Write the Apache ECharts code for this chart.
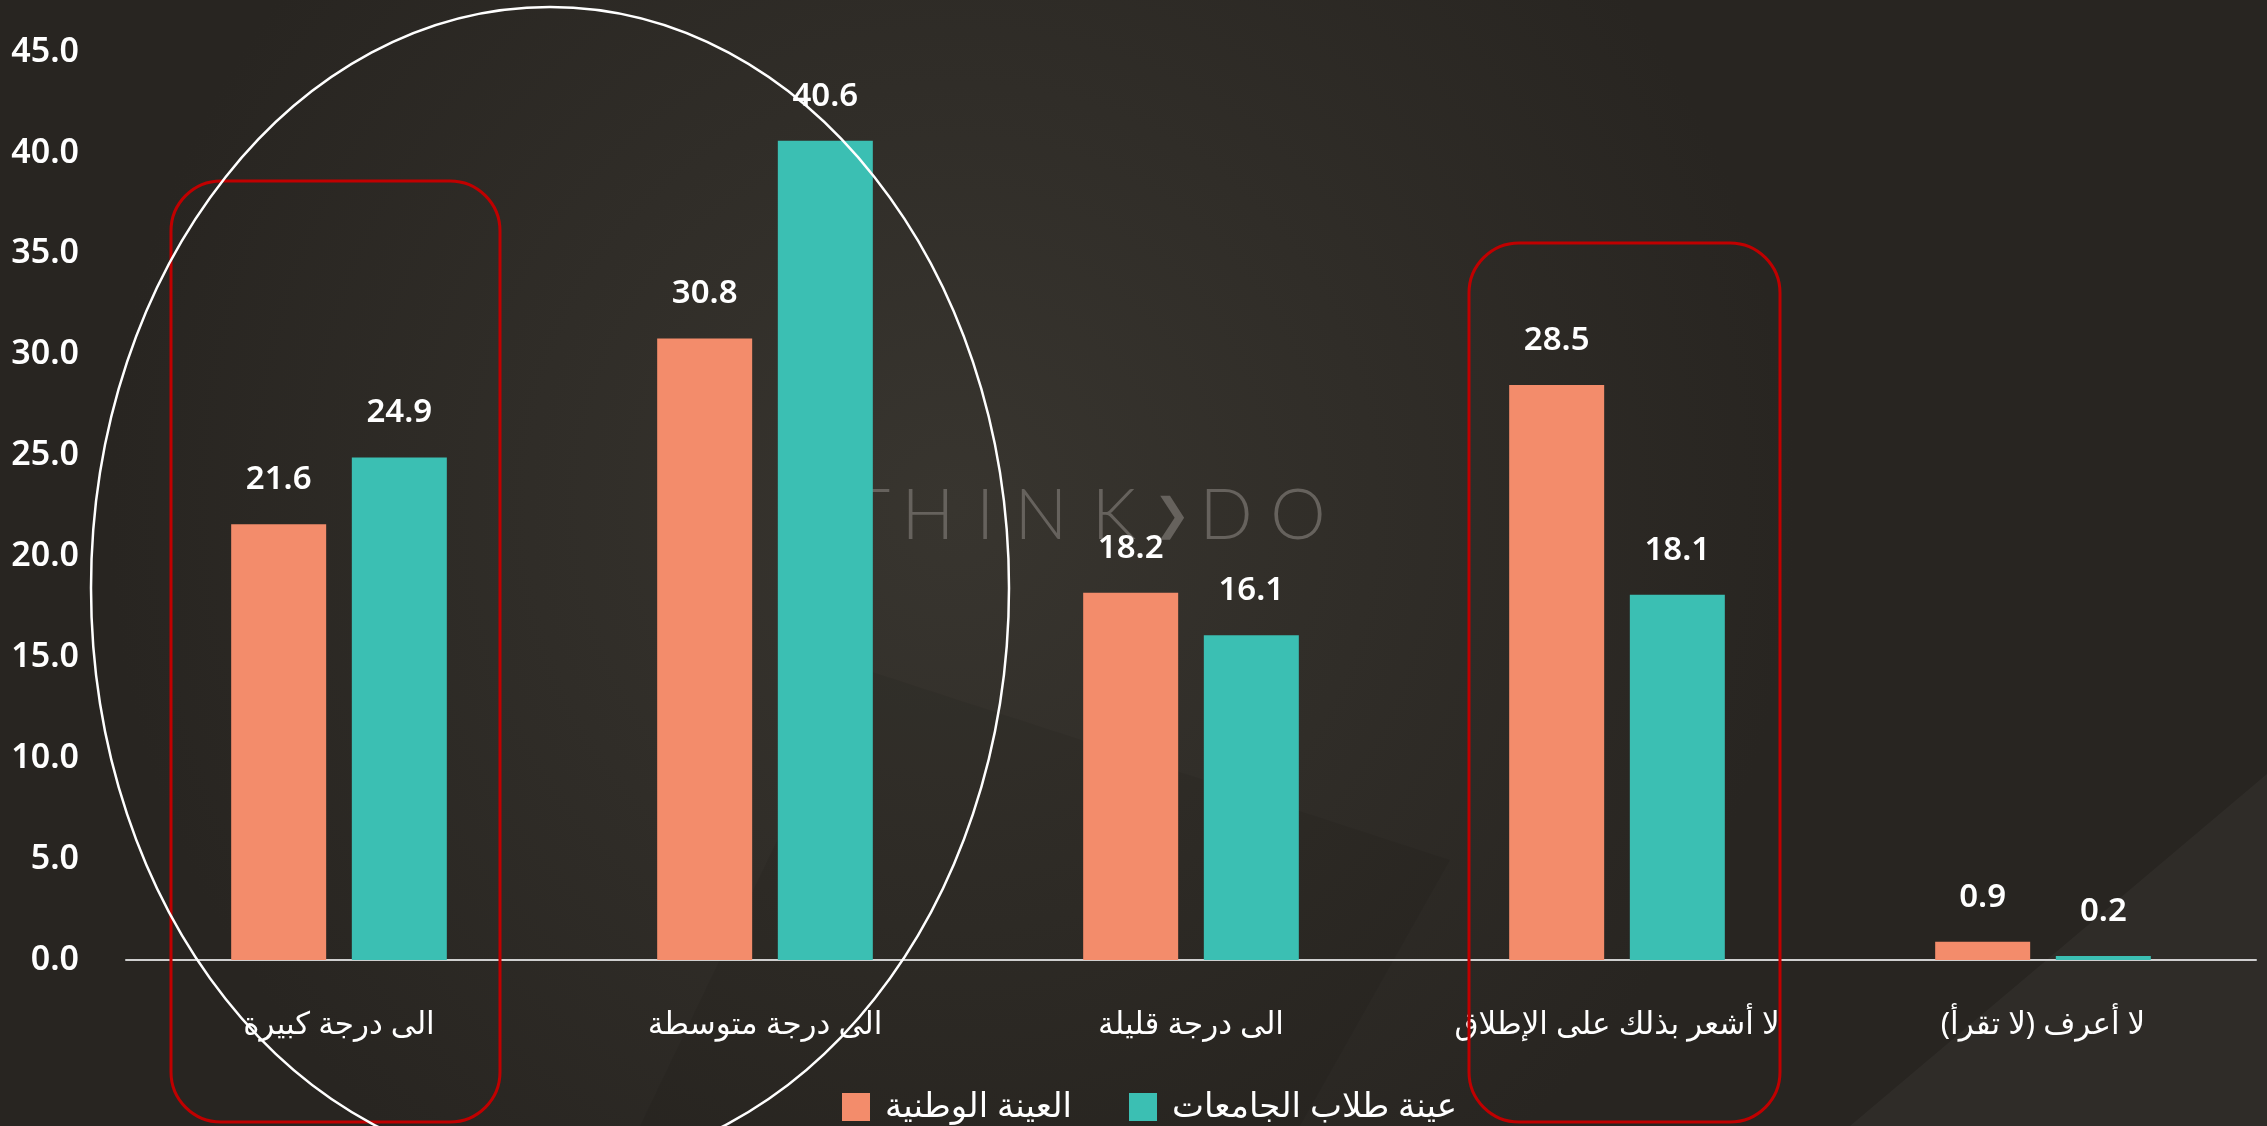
<!DOCTYPE html>
<html lang="ar">
<head>
    <meta charset="UTF-8">
    <title>chart</title>
    <script src="https://cdn.jsdelivr.net/npm/echarts@6/dist/echarts.min.js"></script>
    <style>
        html, body { margin: 0; padding: 0; background: #2c2925; }
        #container { width: 2267px; height: 1126px; }
    </style>
</head>
<body>
<div id="container"></div>
<script>
    // data
    var categories = ['الى درجة كبيرة', 'الى درجة متوسطة', 'الى درجة قليلة', 'لا أشعر بذلك على الإطلاق', 'لا أعرف (لا تقرأ)'];
    var seriesNames = ['العينة الوطنية', 'عينة طلاب الجامعات'];
    var nationalSample = [21.6, 30.8, 18.2, 28.5, 0.9];
    var studentSample = [24.9, 40.6, 16.1, 18.1, 0.2];
    var watermark = ['T', 'H', 'I', 'N', 'K', '❯', 'D', 'O'];

    var FONT = "'Noto Sans', 'DejaVu Sans', sans-serif";
    var myChart = echarts.init(document.getElementById('container'));

    // decorative watermark letters, spread out
    var wmX = [870, 928, 985, 1041, 1114, 1172, 1226, 1298];
    var wmGraphics = watermark.map(function (ch, i) {
        return {
            type: 'text', z: 0, silent: true,
            x: wmX[i], y: 516,
            style: {
                text: ch, fill: '#66625d',
                font: (ch === '❯' ? '400 44px ' : '300 70px Lato, ') + FONT,
                align: 'center', verticalAlign: 'middle'
            }
        };
    });

    function valueLabel(p) { return p.value.toFixed(1); }

    var option = {
        backgroundColor: {
            type: 'radial', x: 0.42, y: 0.45, r: 0.75,
            colorStops: [{offset: 0, color: '#38352f'}, {offset: 1, color: '#282521'}]
        },
        textStyle: {fontFamily: FONT},
        grid: {left: 126, right: 11, top: 52, bottom: 166},
        legend: {
            left: 837, top: 1085,
            itemWidth: 28, itemHeight: 28, itemGap: 57,
            icon: 'rect',
            textStyle: {color: '#fff', fontSize: 34, fontFamily: FONT, padding: [0, 0, 0, 10]}
        },
        xAxis: {
            type: 'category',
            data: categories,
            axisLine: {lineStyle: {color: '#cfcfcf', width: 2}},
            axisTick: {show: false},
            axisLabel: {
                color: '#fff', fontSize: 31, margin: 50, fontFamily: FONT,
                formatter: function (v) { return '\u200F' + v + '\u200F'; }
            }
        },
        yAxis: {
            type: 'value', min: 0, max: 45, interval: 5,
            splitLine: {show: false},
            axisLine: {show: false},
            axisTick: {show: false},
            axisLabel: {
                color: '#fff', fontSize: 34, fontWeight: 600, margin: 47,
                padding: [0, 0, 10, 0],
                formatter: function (v) { return v.toFixed(1); }
            }
        },
        series: [{
            name: seriesNames[0],
            type: 'bar',
            data: nationalSample,
            barWidth: 95,
            barGap: '27%',
            itemStyle: {color: '#f38c6b'},
            label: {show: true, position: 'top', distance: 28, color: '#fff', fontSize: 33, fontWeight: 600,
                formatter: valueLabel}
        }, {
            name: seriesNames[1],
            type: 'bar',
            data: studentSample,
            barWidth: 95,
            barGap: '27%',
            itemStyle: {color: '#3bbfb3'},
            label: {show: true, position: 'top', distance: 28, color: '#fff', fontSize: 33, fontWeight: 600,
                formatter: valueLabel}
        }],
        graphic: wmGraphics.concat([
            {   // light facet lower right
                type: 'polygon', z: -1, silent: true,
                shape: {points: [[1850, 1126], [2267, 774], [2267, 1126]]},
                style: {fill: 'rgba(255,255,255,0.035)'}
            },
            {   // darker facet below watermark
                type: 'polygon', z: -1, silent: true,
                shape: {points: [[860, 668], [1450, 860], [1300, 1126], [640, 1126]]},
                style: {fill: 'rgba(0,0,0,0.06)'}
            },
            {
                type: 'rect', z: 100, silent: true,
                shape: {x: 171, y: 181, width: 329, height: 941, r: 50},
                style: {fill: 'none', stroke: '#c00000', lineWidth: 3}
            },
            {
                type: 'rect', z: 100, silent: true,
                shape: {x: 1469, y: 243, width: 311, height: 879, r: 50},
                style: {fill: 'none', stroke: '#c00000', lineWidth: 3}
            },
            {
                type: 'ellipse', z: 100, silent: true,
                shape: {cx: 550, cy: 588, rx: 459, ry: 581},
                style: {fill: 'none', stroke: '#ffffff', lineWidth: 2.5}
            }
        ])
    };

    myChart.setOption(option);
</script>
</body>
</html>
